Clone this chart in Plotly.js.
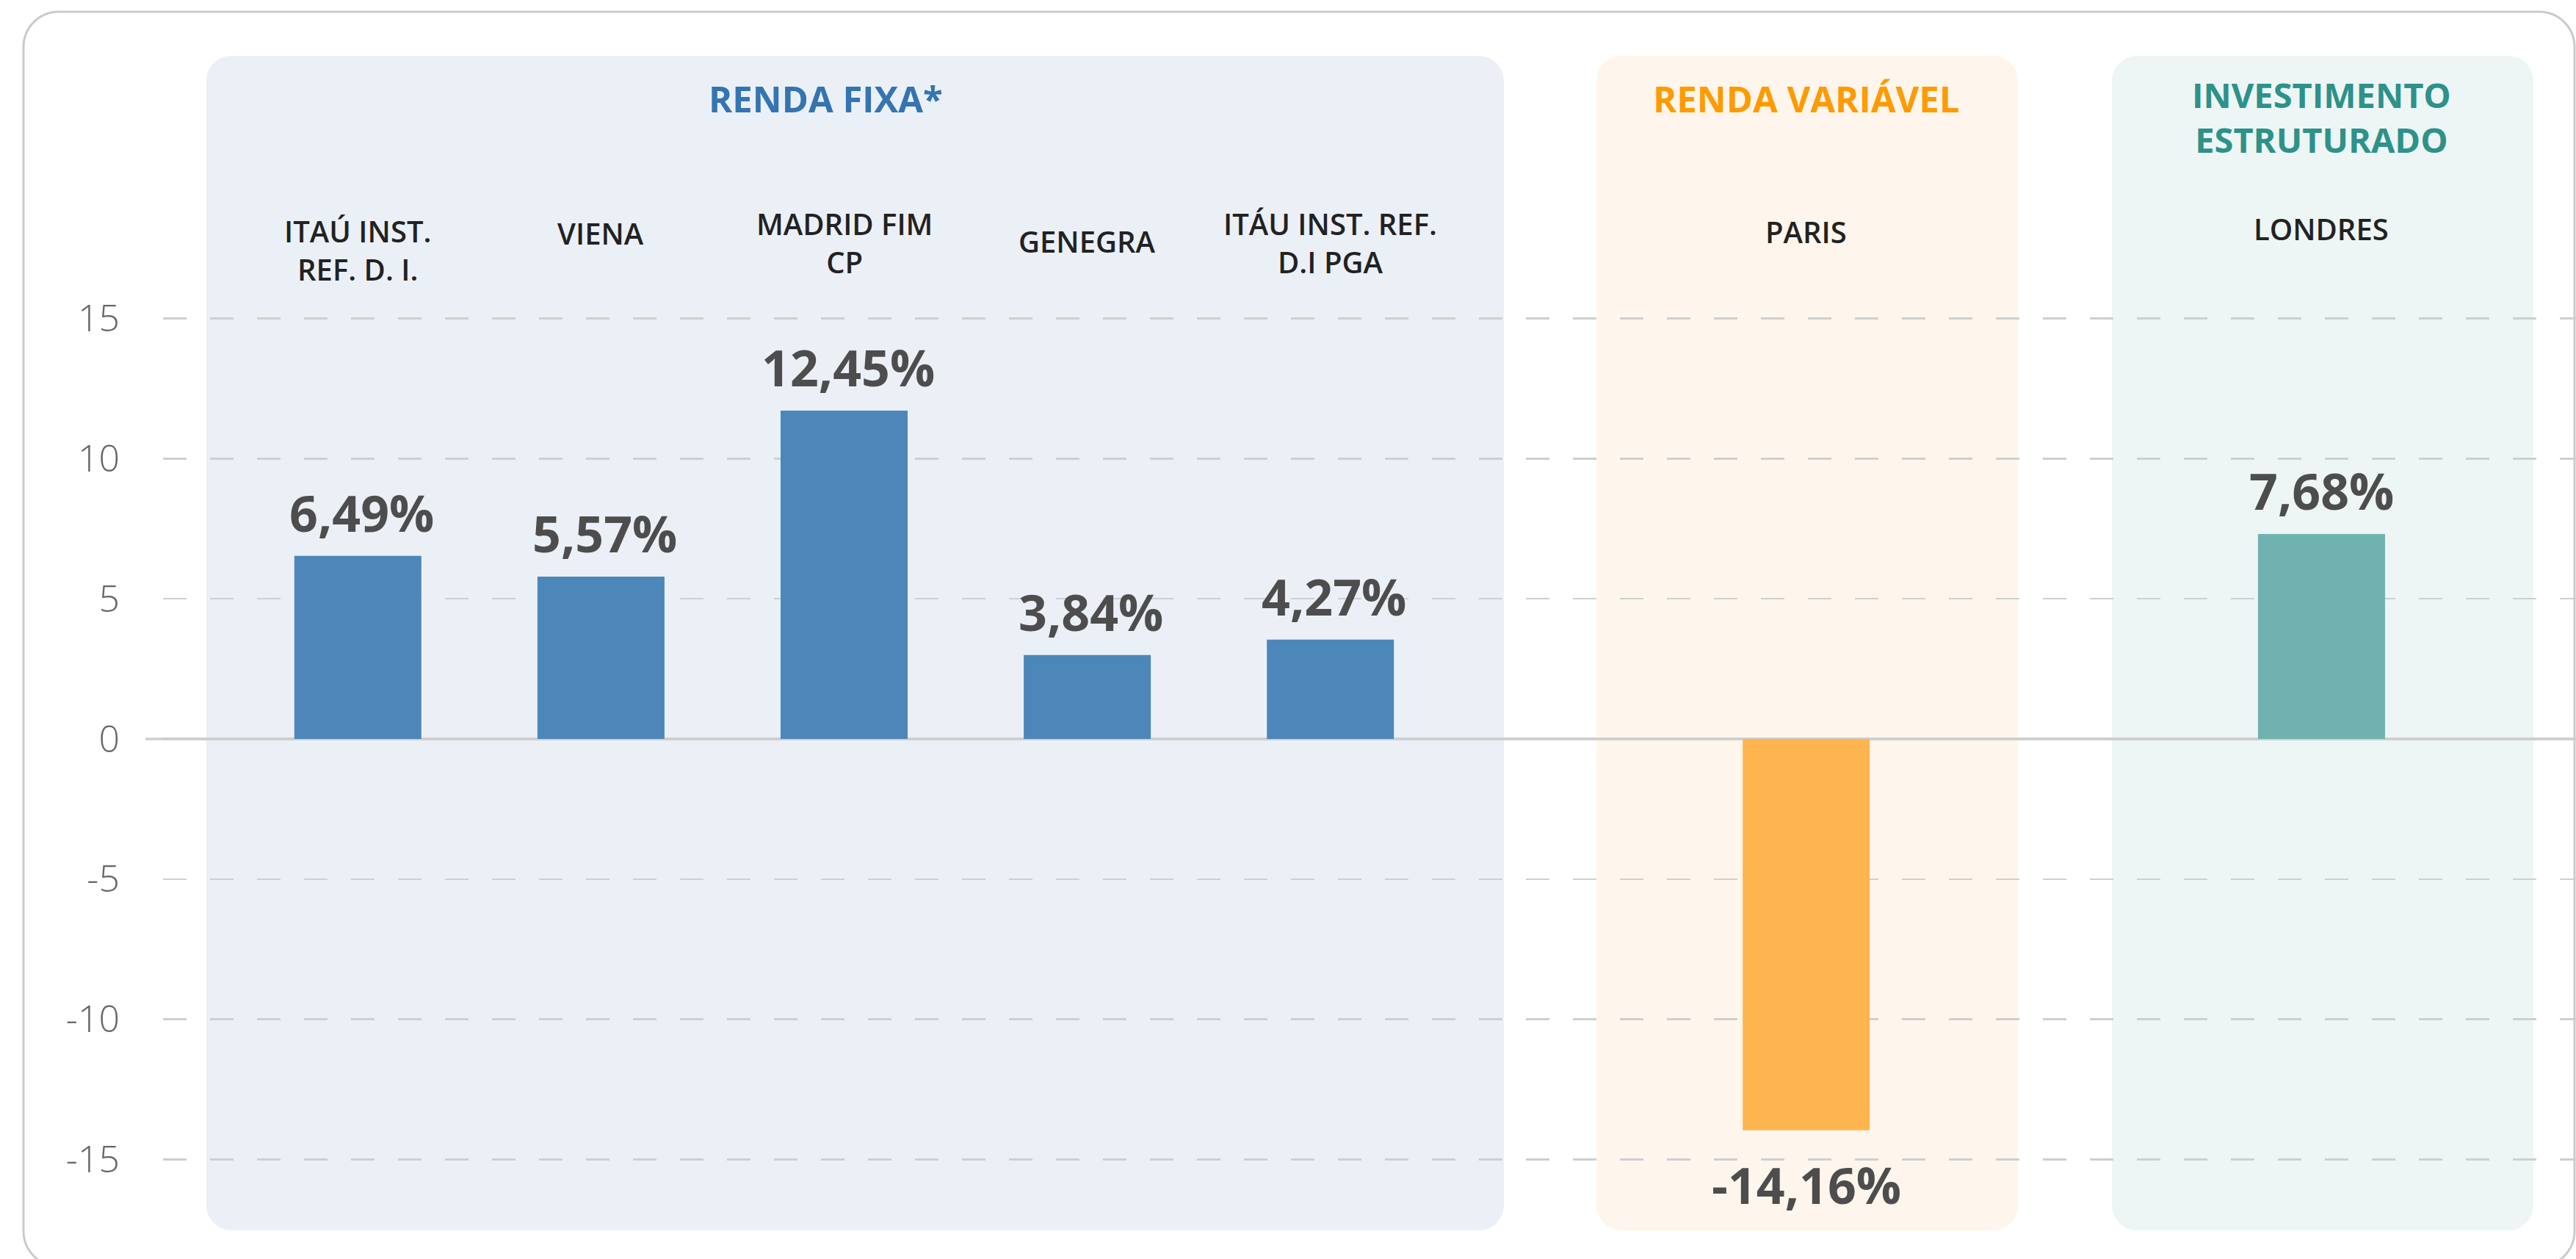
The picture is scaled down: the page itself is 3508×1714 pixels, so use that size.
<!DOCTYPE html>
<html>
<head>
<meta charset="utf-8">
<script src="https://cdn.plot.ly/plotly-3.0.1.min.js"></script>
<style>html,body{margin:0;padding:0;background:#fff;}#chart{width:3508px;height:1714px;}</style>
</head>
<body>
<div id="chart"></div>
<script>
// ---------- data ----------
const fixedCategories = ['ITAÚ INST.<br>REF. D. I.', 'VIENA', 'MADRID FIM<br>CP', 'GENEGRA', 'ITÁU INST. REF.<br>D.I PGA'];
const fixedHeights = [6.53, 5.79, 11.71, 2.99, 3.54];
const fixedLabels = ['6,49%', '5,57%', '12,45%', '3,84%', '4,27%'];

const otherCategories = ['PARIS', 'LONDRES'];
const otherHeights = [-13.96, 7.31];
const otherLabels = ['-14,16%', '7,68%'];

const groupTitles = ['RENDA FIXA*', 'RENDA VARIÁVEL', 'INVESTIMENTO<br>ESTRUTURADO'];
const yTickValues = [-15, -10, -5, 0, 5, 10, 15];
const yTickLabels = ['-15', '-10', '-5', '0', '5', '10', '15'];

// ---------- styles ----------
const W = 3508, H = 1714;
const M = {l: 222, r: 0, t: 338, b: 40};
const FONT = '"Open Sans", "DejaVu Sans", sans-serif';
const BLUE = '#4D87B9', ORANGE = '#FFB54F', TEAL = '#70B2AF';
const PW = W - M.l - M.r, PH = H - M.t - M.b;
const px2x = px => (px - M.l) / PW;
const py2y = py => (H - M.b - py) / PH;

function roundRect(x0, y0, x1, y1, r) {
  const k = 0.5523 * r;
  const P = (x, y) => px2x(x).toFixed(5) + ',' + py2y(y).toFixed(5);
  return 'M' + P(x0 + r, y0) +
    ' L' + P(x1 - r, y0) +
    ' C' + P(x1 - r + k, y0) + ' ' + P(x1, y0 + r - k) + ' ' + P(x1, y0 + r) +
    ' L' + P(x1, y1 - r) +
    ' C' + P(x1, y1 - r + k) + ' ' + P(x1 - r + k, y1) + ' ' + P(x1 - r, y1) +
    ' L' + P(x0 + r, y1) +
    ' C' + P(x0 + r - k, y1) + ' ' + P(x0, y1 - r + k) + ' ' + P(x0, y1 - r) +
    ' L' + P(x0, y0 + r) +
    ' C' + P(x0, y0 + r - k) + ' ' + P(x0 + r - k, y0) + ' ' + P(x0 + r, y0) + ' Z';
}

const traces = [
  {type: 'bar', x: fixedCategories, y: fixedHeights, xaxis: 'x', yaxis: 'y',
   width: 0.5225, marker: {color: BLUE, line: {width: 0}}, hoverinfo: 'skip'},
  {type: 'bar', x: otherCategories, y: otherHeights, xaxis: 'x2', yaxis: 'y',
   width: 0.2465, marker: {color: [ORANGE, TEAL], line: {width: 0}}, hoverinfo: 'skip'}
];

const shapes = [
  {type: 'path', xref: 'paper', yref: 'paper', layer: 'below',
   path: roundRect(32, 16, 3506, 1724, 48), fillcolor: 'rgba(0,0,0,0)', line: {color: '#CACACA', width: 3}},
  {type: 'path', xref: 'paper', yref: 'paper', layer: 'below',
   path: roundRect(281, 76, 2048, 1675, 34), fillcolor: '#EBF0F7', line: {width: 0}},
  {type: 'path', xref: 'paper', yref: 'paper', layer: 'below',
   path: roundRect(2174, 76, 2748, 1675, 34), fillcolor: '#FEF6EC', line: {width: 0}},
  {type: 'path', xref: 'paper', yref: 'paper', layer: 'below',
   path: roundRect(2876, 76, 3450, 1675, 34), fillcolor: '#EDF6F5', line: {width: 0}},
  {type: 'line', xref: 'paper', yref: 'y', layer: 'below',
   x0: px2x(198), x1: 1, y0: 0, y1: 0, line: {color: '#CFCFCF', width: 3.5}}
];

const annotations = [];
// group titles
const titleStyle = [
  {x: 1124, y: 133.5, color: '#3474B1', size: 49},
  {x: 2459, y: 133.5, color: '#FF9A00', size: 49},
  {x: 3161, y: 159, color: '#2E918A', size: 47}
];
groupTitles.forEach((t, i) => {
  const s = titleStyle[i];
  annotations.push({text: '<b>' + t + '</b>', xref: 'paper', yref: 'paper',
    x: px2x(s.x), y: py2y(s.y), xanchor: 'center', yanchor: 'middle', showarrow: false,
    font: {family: FONT, size: s.size, color: s.color, weight: 700}});
});
// category labels
const fixedLabelY = [341, 318, 330, 328, 330];
const otherLabelY = [316, 311];
fixedCategories.forEach((c, i) => {
  annotations.push({text: c, xref: 'x', yref: 'paper', x: c, y: py2y(fixedLabelY[i]),
    xanchor: 'center', yanchor: 'middle', showarrow: false,
    font: {family: FONT, size: 40, color: '#222222', weight: 600}});
});
otherCategories.forEach((c, i) => {
  annotations.push({text: c, xref: 'x2', yref: 'paper', x: c, y: py2y(otherLabelY[i]),
    xanchor: 'center', yanchor: 'middle', showarrow: false,
    font: {family: FONT, size: 40, color: '#222222', weight: 600}});
});
// value labels
const valFont = {family: FONT, size: 68, color: '#4D4D4D', weight: 700};
fixedCategories.forEach((c, i) => {
  annotations.push({text: fixedLabels[i], xref: 'x', yref: 'y', x: c, y: fixedHeights[i],
    xanchor: 'center', yanchor: 'bottom', yshift: 11, xshift: 5, showarrow: false, font: valFont});
});
otherCategories.forEach((c, i) => {
  const neg = otherHeights[i] < 0;
  annotations.push({text: otherLabels[i], xref: 'x2', yref: 'y', x: c, y: otherHeights[i],
    xanchor: 'center', yanchor: neg ? 'top' : 'bottom', yshift: neg ? -25 : 11, showarrow: false, font: valFont});
});

const layout = {
  width: W, height: H,
  margin: M,
  paper_bgcolor: '#FFFFFF', plot_bgcolor: 'rgba(0,0,0,0)',
  showlegend: false,
  barmode: 'overlay',
  xaxis: {type: 'category', categoryorder: 'array', categoryarray: fixedCategories,
    range: [-0.8013, 9.1232], visible: false, fixedrange: true, anchor: 'y'},
  xaxis2: {type: 'category', categoryorder: 'array', categoryarray: otherCategories,
    range: [-3.1884, 1.4938], visible: false, overlaying: 'x', anchor: 'y', fixedrange: true},
  yaxis: {range: [-17.5, 17.5], tickmode: 'array', tickvals: yTickValues, ticktext: yTickLabels,
    showgrid: true, gridcolor: '#CFCFCF', gridwidth: 2.5, griddash: '32px,32px',
    zeroline: true, zerolinecolor: '#CFCFCF', zerolinewidth: 3.5,
    showline: false, ticks: '', ticklabelstandoff: 58,
    tickfont: {family: FONT, size: 50, color: '#666666', weight: 300}, fixedrange: true},
  shapes: shapes,
  annotations: annotations
};

Plotly.newPlot('chart', traces, layout, {displayModeBar: false, staticPlot: true});
</script>
</body>
</html>
